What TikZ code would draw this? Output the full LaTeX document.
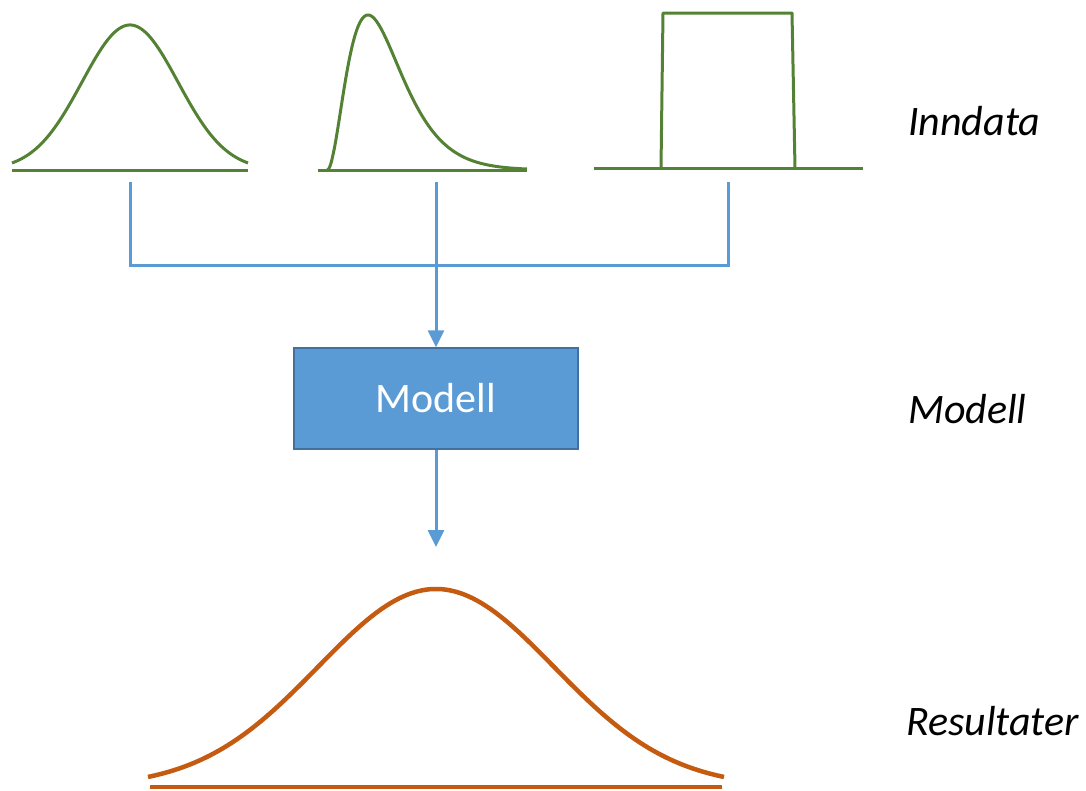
\documentclass[tikz,border=0pt]{standalone}
\usepackage{fontspec}
\setmainfont{Carlito}
\usetikzlibrary{arrows.meta}
\definecolor{cgreen}{HTML}{548235}
\definecolor{cblue}{HTML}{5B9BD5}
\definecolor{cblueborder}{HTML}{41719C}
\definecolor{corange}{HTML}{C55A11}
\tikzset{
  grn/.style={draw=cgreen, line width=3pt},
  org/.style={draw=corange, line width=4.5pt},
  conn/.style={draw=cblue, line width=3pt},
  arr/.style={conn, -{Triangle[width=16pt,length=17pt]}},
  modelbox/.style={draw=cblueborder, fill=cblue, line width=1.5pt, minimum width=284pt, minimum height=101pt, inner sep=0pt, text=white, font=\fontsize{42}{50}\selectfont},
  lbl/.style={anchor=base west, inner sep=0pt, font=\fontsize{42}{50}\selectfont\itshape}
}
\begin{document}
\begin{tikzpicture}[x=1pt,y=-1pt]
\useasboundingbox (0,0) rectangle (1086,790);
% input 1: normal
\draw[grn] (12,170) -- (248,170);
\draw[grn, line join=round] plot[domain=12:248, samples=120, smooth] (\x, {170-145*exp(-0.5*((\x-130)/48)^2)});
% input 2: skewed
\draw[grn] (318,170) -- (527,170);
\draw[grn, line join=round] plot[domain=0.3:200, samples=150, smooth] ({327+\x}, {170-155*exp(2.2*(ln(\x/41)+1-\x/41))});
% input 3: uniform
\draw[grn] (594,168) -- (863,168);
\draw[grn, line join=round] (661,168) -- (663,13) -- (792,13) -- (795,168);
% model box
\node[modelbox] (model) at (436,398.5) {Modell};
% connectors
\coordinate (in1) at (130,182);
\coordinate (in2) at (436,182);
\coordinate (in3) at (728,182);
\coordinate (out) at (436,547);
\draw[conn] (in1) |- (in3 |- 0,265) -- (in3);
\draw[arr] (in2) -- (model.north);
\draw[arr] (model.south) -- (out);
% output: normal
\draw[org] (150,787) -- (722,787);
\draw[org, line join=round] plot[domain=148:724, samples=150, smooth] (\x, {787-198*exp(-0.5*((\x-436)/118)^2)});
% labels
\node[lbl] (l1) at (908,135) {Inndata};
\node[lbl] (l2) at (908,423) {Modell};
\node[lbl] (l3) at (906,735) {Resultater};
\end{tikzpicture}
\end{document}
